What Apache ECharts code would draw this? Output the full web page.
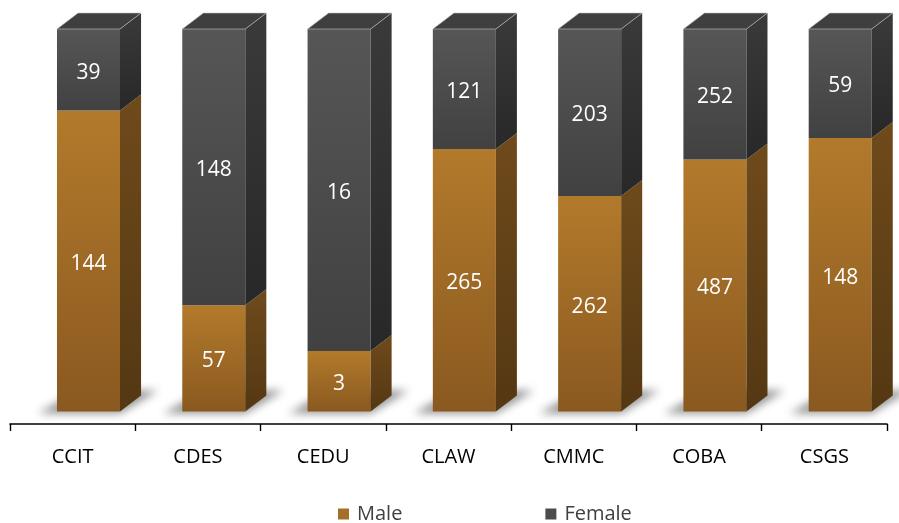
<!DOCTYPE html>
<html>
<head>
<meta charset="utf-8">
<style>
  html, body { margin: 0; padding: 0; background: #fff; }
  #chart { width: 899px; height: 523px; }
</style>
<script src="https://cdn.jsdelivr.net/npm/echarts@6/dist/echarts.min.js"></script>
</head>
<body>
<div id="chart"></div>
<script>
const categories = ['CCIT', 'CDES', 'CEDU', 'CLAW', 'CMMC', 'COBA', 'CSGS']
const male = [144, 57, 3, 265, 262, 487, 148]
const female = [39, 148, 16, 121, 203, 252, 59]

// 100% stacked: male at the bottom, female on top
const maleData = male.map((v, i) => {
	const pct = v / (v + female[i]) * 100
	return [i, 0, pct, v]
})
const femaleData = female.map((v, i) => {
	const base = male[i] / (male[i] + v) * 100
	return [i, base, 100, v]
})

const grad = (a, b) => new echarts.graphic.LinearGradient(0, 0, 0, 1, [
	{ offset: 0, color: a },
	{ offset: 1, color: b }
])

const faces = {
	Male: { front: ['#B27A2B', '#8A5920'], side: ['#6F4A1B', '#543813'], top: '#8C6024' },
	Female: { front: ['#565656', '#414141'], side: ['#3A3A3A', '#282828'], top: '#3F3F3F' }
}

function geom(api, i, lo, hi) {
	const pLo = api.coord([i, lo])
	const pHi = api.coord([i, hi])
	const band = api.size([1, 0])[0]
	const x0 = pLo[0] - band * 0.125
	const w = band * 0.503
	return { x0, x1: x0 + w, w, yB: pLo[1], yT: pHi[1], dx: band * 0.168, dy: 16 }
}

function barItem(name, withTop) {
	const f = faces[name]
	return function (params, api) {
		const g = geom(api, api.value(0), api.value(1), api.value(2))
		const children = [
			{
				type: 'rect',
				shape: { x: g.x0, y: g.yT, width: g.w, height: g.yB - g.yT },
				style: { fill: grad(f.front[0], f.front[1]) }
			},
			{
				type: 'polygon',
				shape: { points: [[g.x1, g.yT], [g.x1 + g.dx, g.yT - g.dy], [g.x1 + g.dx, g.yB - g.dy], [g.x1, g.yB]] },
				style: { fill: grad(f.side[0], f.side[1]) }
			}
		]
		if (withTop) {
			children.push({
				type: 'polygon',
				shape: { points: [[g.x0, g.yT], [g.x1, g.yT], [g.x1 + g.dx, g.yT - g.dy], [g.x0 + g.dx, g.yT - g.dy]] },
				style: { fill: f.top, stroke: '#C4C4C4', lineWidth: 0.6 }
			})
		}
		children.push({
			type: 'text',
			style: {
				text: String(api.value(3)),
				x: g.x0 + g.w / 2,
				y: (g.yT + g.yB) / 2 + 3,
				align: 'center',
				verticalAlign: 'middle',
				fill: '#fff',
				fontSize: 21,
				fontFamily: 'Open Sans'
			}
		})
		return { type: 'group', children }
	}
}

const chartDom = echarts.init(document.getElementById('chart'))
chartDom.setOption({
	backgroundColor: '#fff',
	animation: false,
	grid: { left: 10, right: 12, top: 29, bottom: 111.5 },
	legend: {
		top: 499,
		left: 333,
		itemWidth: 11,
		itemHeight: 11,
		itemGap: 143,
		icon: 'rect',
		textStyle: { fontSize: 20, color: '#404040', fontFamily: 'Open Sans', padding: [0, 0, 0, 3] },
		data: ['Male', 'Female']
	},
	xAxis: {
		type: 'category',
		data: categories,
		offset: 12.5,
		axisLine: { onZero: false, lineStyle: { color: '#000', width: 1.6 } },
		axisTick: { show: true, length: 7, lineStyle: { color: '#000', width: 1.4 } },
		axisLabel: { color: '#000', fontSize: 20, margin: 23, fontFamily: 'Open Sans' }
	},
	yAxis: { type: 'value', min: 0, max: 100, show: false, splitLine: { show: false } },
	series: [
		{
			name: 'shadow',
			type: 'custom',
			z: 1,
			silent: true,
			data: maleData,
			encode: { x: 0, y: 1 },
			renderItem: function (params, api) {
				const g = geom(api, api.value(0), 0, 0)
				const off = 3000
				return {
					type: 'polygon',
					shape: { points: [[g.x0 - 19 - off, g.yB + 2], [g.x1 - off, g.yB + 2], [g.x1 + g.dx + 17 - off, g.yB - g.dy - 5], [g.x0 + g.dx - off, g.yB - g.dy - 5]] },
					style: { fill: '#000', shadowBlur: 9, shadowOffsetX: off, shadowColor: 'rgba(0,0,0,0.42)' }
				}
			}
		},
		{
			name: 'Male',
			type: 'custom',
			z: 2,
			itemStyle: { color: '#A46F27' },
			data: maleData,
			encode: { x: 0, y: 2 },
			renderItem: barItem('Male', false)
		},
		{
			name: 'Female',
			type: 'custom',
			z: 3,
			itemStyle: { color: '#4C4C4C' },
			data: femaleData,
			encode: { x: 0, y: 2 },
			renderItem: barItem('Female', true)
		}
	]
}, true)
</script>
</body>
</html>
